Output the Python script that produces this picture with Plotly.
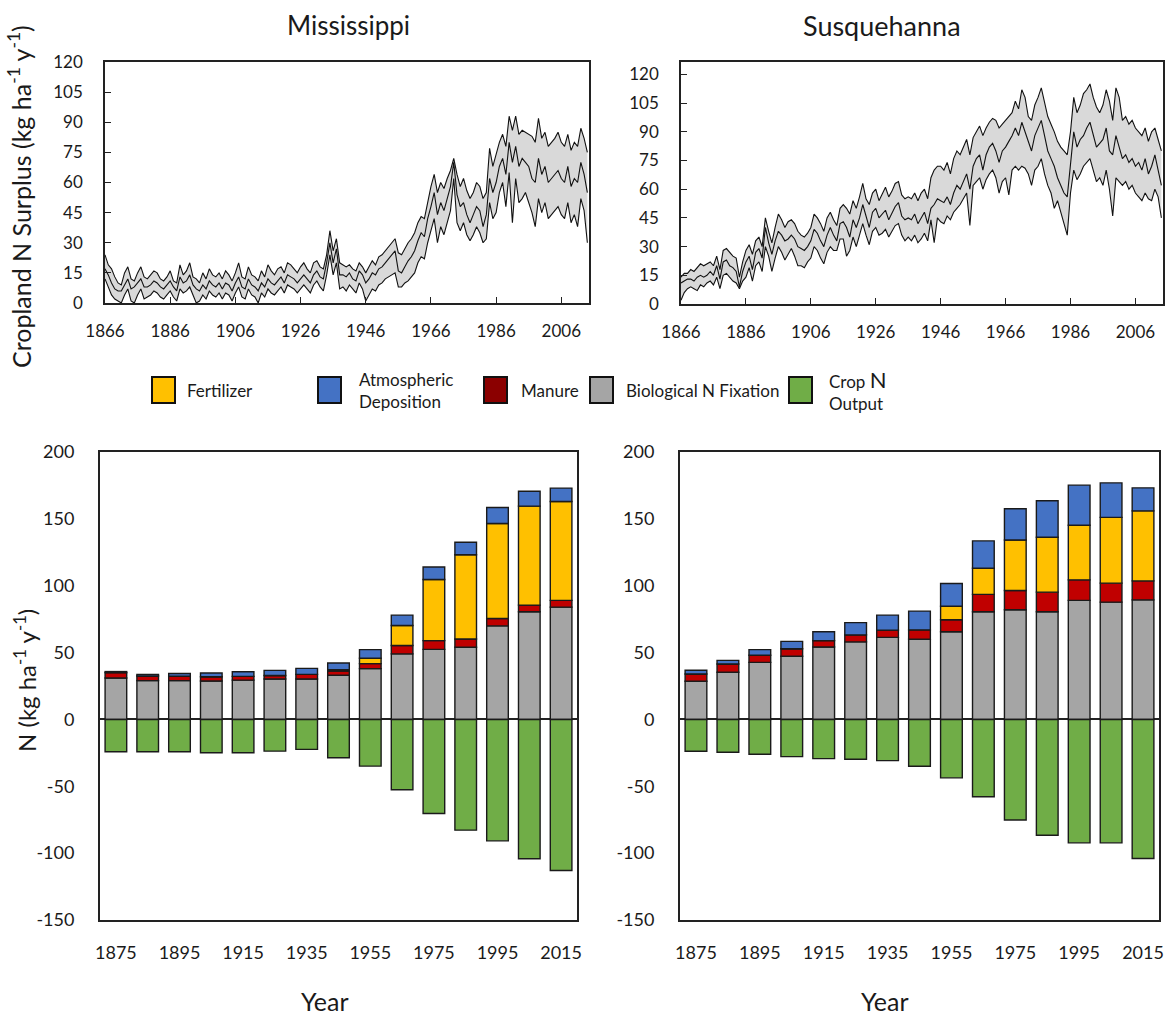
import plotly.graph_objects as go

# ---------------- DATA ----------------
ts_years = list(range(1866, 2015))

miss_upper = [24, 19, 17, 13, 10, 9, 15, 18, 12, 11,
              15, 18, 13, 12, 14, 16, 15, 12, 11, 13,
              16, 11, 10, 19, 14, 16, 20, 13, 12, 10,
              15, 12, 17, 14, 13, 15, 12, 16, 14, 11,
              15, 20, 13, 12, 18, 14, 13, 11, 16, 13,
              19, 16, 14, 17, 18, 15, 20, 19, 17, 15,
              18, 20, 17, 15, 20, 21, 18, 17, 24, 36,
              26, 32, 20, 19, 18, 19, 17, 16, 20, 18,
              15, 18, 21, 19, 23, 24, 26, 28, 30, 32,
              25, 24, 27, 30, 32, 35, 40, 43, 42, 50,
              58, 64, 55, 60, 57, 62, 66, 72, 64, 58,
              62, 56, 52, 55, 60, 58, 52, 55, 77, 68,
              74, 80, 84, 78, 93, 86, 93, 84, 86, 85,
              84, 83, 80, 92, 82, 85, 78, 80, 82, 85,
              80, 78, 84, 76, 80, 78, 87, 82, 75]
miss_mid = [17, 14, 10, 7, 6, 6, 9, 12, 7, 8,
            10, 12, 8, 8, 9, 11, 10, 8, 7, 9,
            11, 8, 6, 13, 10, 11, 14, 9, 7, 6,
            9, 7, 11, 9, 8, 10, 7, 10, 9, 6,
            10, 13, 8, 7, 12, 9, 8, 6, 10, 8,
            12, 10, 9, 11, 13, 10, 14, 13, 12, 10,
            12, 14, 12, 10, 14, 16, 13, 12, 20, 30,
            20, 27, 14, 14, 13, 15, 12, 11, 16, 14,
            10, 12, 15, 14, 17, 18, 20, 22, 24, 26,
            16, 15, 18, 21, 23, 26, 31, 35, 33, 42,
            48, 55, 44, 50, 46, 52, 58, 70, 54, 48,
            50, 44, 40, 44, 48, 46, 38, 44, 62, 55,
            60, 68, 72, 64, 80, 70, 78, 68, 72, 70,
            68, 62, 60, 72, 64, 68, 60, 62, 64, 66,
            62, 60, 68, 58, 62, 60, 70, 64, 55]
miss_lower = [12, 8, 4, 2, 1, 0, 4, 7, 1, 0,
              4, 7, 2, 3, 4, 6, 5, 3, 2, 4,
              6, 3, 1, 7, 5, 6, 8, 4, 0, 1,
              4, 2, 6, 4, 3, 5, 2, 5, 4, 1,
              5, 8, 3, 2, 7, 4, 3, 0, 5, 3,
              7, 5, 4, 6, 8, 5, 9, 8, 7, 5,
              7, 9, 7, 5, 9, 11, 8, 6, 14, 24,
              14, 20, 7, 8, 6, 9, 7, 5, 10, 7,
              1, 4, 7, 6, 9, 10, 12, 13, 14, 15,
              8, 8, 10, 11, 13, 15, 20, 23, 22, 30,
              36, 42, 30, 38, 34, 40, 46, 62, 40, 36,
              40, 34, 31, 34, 38, 35, 30, 32, 50, 42,
              45, 55, 60, 48, 65, 40, 62, 50, 52, 55,
              50, 45, 38, 52, 45, 50, 42, 44, 46, 48,
              44, 42, 50, 40, 44, 38, 52, 46, 30]

susq_upper = [14, 16, 16, 18, 17, 19, 21, 20, 21, 22,
              20, 25, 18, 28, 29, 27, 25, 24, 14, 22,
              28, 31, 26, 33, 35, 30, 45, 38, 32, 40,
              47, 44, 40, 43, 44, 42, 38, 36, 35, 37,
              40, 47, 45, 42, 38, 45, 48, 44, 41, 50,
              52, 50, 47, 54, 50, 56, 63, 55, 52, 58,
              60, 54, 58, 61, 56, 59, 63, 64, 57, 55,
              56, 55, 58, 54, 58, 60, 55, 66, 70, 72,
              72, 70, 74, 68, 76, 80, 78, 82, 86, 78,
              87, 90, 93, 88, 92, 95, 97, 96, 92, 94,
              96, 98, 100, 106, 102, 112, 108, 98, 96, 104,
              108, 113, 105, 98, 94, 90, 85, 82, 80, 78,
              90, 108, 100, 104, 110, 112, 115, 108, 103, 100,
              104, 112, 106, 96, 113, 108, 96, 98, 94, 96,
              92, 90, 88, 92, 85, 90, 92, 86, 80]
susq_mid = [11, 12, 13, 13, 12, 14, 15, 14, 15, 17,
            15, 20, 13, 22, 23, 20, 19, 17, 9, 17,
            22, 25, 18, 27, 29, 24, 40, 32, 26, 33,
            38, 36, 33, 34, 36, 34, 30, 29, 28, 30,
            33, 39, 37, 33, 30, 36, 40, 36, 33, 42,
            43, 40, 35, 44, 40, 45, 52, 46, 40, 48,
            50, 45, 47, 49, 44, 48, 51, 53, 46, 44,
            45, 44, 47, 42, 45, 48, 42, 50, 52, 55,
            54, 53, 56, 52, 58, 62, 60, 64, 68, 60,
            72, 76, 78, 70, 78, 82, 84, 80, 74, 80,
            82, 85, 88, 92, 88, 95, 90, 84, 80, 88,
            92, 96, 88, 80, 76, 72, 66, 62, 58, 56,
            75, 90, 82, 86, 88, 92, 95, 88, 82, 84,
            86, 92, 80, 78, 88, 82, 76, 78, 74, 76,
            72, 74, 70, 76, 68, 72, 78, 70, 62]
susq_lower = [2, 6, 8, 9, 8, 7, 10, 9, 11, 12,
              10, 14, 8, 15, 16, 14, 12, 11, 8, 12,
              14, 19, 12, 20, 22, 17, 30, 25, 17, 24,
              30, 27, 23, 26, 29, 25, 20, 20, 19, 22,
              24, 30, 28, 24, 21, 27, 30, 28, 28, 34,
              34, 25, 28, 35, 30, 36, 42, 36, 31, 38,
              40, 36, 37, 39, 35, 38, 41, 42, 36, 33,
              35, 33, 36, 32, 34, 37, 33, 44, 32, 45,
              43, 42, 46, 44, 48, 50, 52, 55, 58, 41,
              62, 64, 66, 60, 65, 68, 70, 66, 58, 64,
              66, 57, 70, 72, 70, 72, 71, 68, 62, 70,
              72, 76, 68, 62, 58, 50, 54, 48, 42, 36,
              58, 70, 65, 68, 72, 74, 76, 70, 64, 66,
              62, 70, 60, 46, 66, 64, 62, 64, 60, 62,
              58, 56, 54, 58, 55, 54, 60, 56, 45]

bar_years = [1875, 1885, 1895, 1905, 1915, 1925, 1935, 1945,
             1955, 1965, 1975, 1985, 1995, 2005, 2015]

miss_bnf = [31, 29, 29, 28.7, 29.4, 30.2, 30.2, 33, 38, 49, 52.4, 54, 70, 80.5, 84]
miss_manure = [4, 3.5, 3.3, 3.2, 2.8, 2.7, 3.5, 3.2, 3.7, 6.3, 6.5, 6.2, 5.5, 5, 5]
miss_fert = [0, 0, 0, 0, 0, 0, 0, 1, 4, 15, 45.8, 63, 71, 74, 74]
miss_atm = [0.8, 1.2, 2, 2.8, 3.5, 3.8, 4.5, 5, 6.5, 7.7, 9.3, 9.3, 12, 11.2, 10]
miss_crop = [-24.2, -24.2, -24.2, -24.9, -24.9, -23.7, -22.4, -28.7, -34.9,
             -52.6, -70.3, -82.8, -90.8, -104.2, -113]

susq_bnf = [28.6, 35.3, 42.7, 47.2, 54.2, 58, 61.4, 60, 65.6, 80.5, 82, 80.5, 89, 87.7, 89.4]
susq_manure = [5.4, 6.2, 5.3, 5.7, 4.7, 5.2, 5.4, 7, 9, 13, 14.4, 14.7, 15.4, 14.2, 14.2]
susq_fert = [0, 0, 0, 0, 0, 0, 0, 0, 10, 19.6, 37.8, 41, 40.8, 49.2, 52.4]
susq_atm = [2.8, 2.7, 4.2, 5.5, 6.7, 9.2, 11.2, 14, 17, 20.4, 23.4, 27.3, 30, 25.8, 17.2]
susq_crop = [-23.8, -24.6, -26, -27.8, -29.3, -29.8, -30.8, -35, -43.7,
             -57.8, -75.2, -86.6, -92.3, -92.3, -104]

top_xticks = [1866, 1886, 1906, 1926, 1946, 1966, 1986, 2006]
top_yticks = [0, 15, 30, 45, 60, 75, 90, 105, 120]
bot_xticks = [1875, 1895, 1915, 1935, 1955, 1975, 1995, 2015]
bot_yticks = [-150, -100, -50, 0, 50, 100, 150, 200]
bot_yticktext = ["-150", "-100", "-50", "0", "50", "100", "150", "200"]

legend_labels = ["Fertilizer", "Atmospheric<br>Deposition", "Manure",
                 "Biological N Fixation", "Crop <span style='font-size:22px'>N</span><br>Output"]

# ---------------- STYLE ----------------
W, H = 1175, 1018
FONT = "Lato"
C_FERT = "#FFC000"
C_ATM = "#4472C4"
C_MAN = "#C00000"
C_BNF = "#A5A5A5"
C_CROP = "#70AD47"
legend_colors = [C_FERT, C_ATM, "#8B0000", C_BNF, C_CROP]


def px(x):
    return x / W


def py(y):
    return 1 - y / H


fig = go.Figure()

# ---- top panels: band + lines ----
for (lo, mi, up, xa, ya) in [(miss_lower, miss_mid, miss_upper, "x", "y"),
                             (susq_lower, susq_mid, susq_upper, "x2", "y2")]:
    fig.add_trace(go.Scatter(x=ts_years, y=lo, mode="lines", xaxis=xa, yaxis=ya,
                             line=dict(color="#111111", width=1.1), showlegend=False))
    fig.add_trace(go.Scatter(x=ts_years, y=up, mode="lines", xaxis=xa, yaxis=ya,
                             fill="tonexty", fillcolor="#D9D9D9",
                             line=dict(color="#111111", width=1.1), showlegend=False))
    fig.add_trace(go.Scatter(x=ts_years, y=mi, mode="lines", xaxis=xa, yaxis=ya,
                             line=dict(color="#111111", width=1.1), showlegend=False))

# ---- bottom panels: stacked bars ----
for (bnf, man, fert, atm, crop, xa, ya) in [
        (miss_bnf, miss_manure, miss_fert, miss_atm, miss_crop, "x3", "y3"),
        (susq_bnf, susq_manure, susq_fert, susq_atm, susq_crop, "x4", "y4")]:
    for vals, col in [(bnf, C_BNF), (man, C_MAN), (fert, C_FERT), (atm, C_ATM), (crop, C_CROP)]:
        fig.add_trace(go.Bar(x=bar_years, y=vals, xaxis=xa, yaxis=ya,
                             marker=dict(color=col, line=dict(color="#1a1a1a", width=1.4)),
                             showlegend=False))

top_font = dict(family=FONT, size=17, color="#1a1a1a")
bot_font = dict(family=FONT, size=18, color="#1a1a1a")
axis_common = dict(showline=True, mirror=True, linecolor="#222222", showgrid=False,
                   zeroline=False, automargin=False)

layout = dict(
    width=W, height=H, margin=dict(l=0, r=0, t=0, b=0, autoexpand=False),
    paper_bgcolor="white", plot_bgcolor="white",
    barmode="relative", bargap=0.32,
    font=dict(family=FONT, color="#1a1a1a"),
    showlegend=False,
    xaxis=dict(domain=[px(105), px(589)], anchor="y", range=[1866, 2014.5],
               tickvals=top_xticks, ticks="inside", ticklen=6, tickcolor="#222222",
               linewidth=1.5, ticklabelstandoff=12, tickfont=top_font, **axis_common),
    yaxis=dict(domain=[py(303), py(62)], anchor="x", range=[0, 120],
               tickvals=top_yticks, ticks="inside", ticklen=6, tickcolor="#222222",
               linewidth=1.5, ticklabelstandoff=17, tickfont=top_font, **axis_common),
    xaxis2=dict(domain=[px(681), px(1163)], anchor="y2", range=[1866, 2014.5],
                tickvals=top_xticks, ticks="inside", ticklen=6, tickcolor="#222222",
                linewidth=1.5, ticklabelstandoff=12, tickfont=top_font, **axis_common),
    yaxis2=dict(domain=[py(304), py(62)], anchor="x2", range=[0, 126.5],
                tickvals=top_yticks, ticks="inside", ticklen=6, tickcolor="#222222",
                linewidth=1.5, ticklabelstandoff=17, tickfont=top_font, **axis_common),
    xaxis3=dict(domain=[px(100), px(577)], anchor="y3", range=[1870, 2020],
                tickvals=bot_xticks, ticks="", linewidth=2, ticklabelstandoff=15,
                tickfont=bot_font, **axis_common),
    yaxis3=dict(domain=[py(920), py(452)], anchor="x3", range=[-150, 200],
                tickvals=bot_yticks, ticktext=bot_yticktext, ticks="", linewidth=2,
                ticklabelstandoff=20, tickfont=bot_font,
                **{**axis_common, "zeroline": True, "zerolinecolor": "#222222", "zerolinewidth": 1.5}),
    xaxis4=dict(domain=[px(680), px(1159)], anchor="y4", range=[1870, 2020],
                tickvals=bot_xticks, ticks="", linewidth=2, ticklabelstandoff=15,
                tickfont=bot_font, **axis_common),
    yaxis4=dict(domain=[py(920), py(452)], anchor="x4", range=[-150, 200],
                tickvals=bot_yticks, ticktext=bot_yticktext, ticks="", linewidth=2,
                ticklabelstandoff=20, tickfont=bot_font,
                **{**axis_common, "zeroline": True, "zerolinecolor": "#222222", "zerolinewidth": 1.5}),
)
fig.update_layout(**layout)

ann = []
def add_text(x, y, text, size, angle=0, xanchor="center", align="center"):
    ann.append(dict(x=px(x), y=py(y), xref="paper", yref="paper", text=text,
                    showarrow=False, textangle=angle, xanchor=xanchor, yanchor="middle",
                    align=align, font=dict(family=FONT, size=size, color="#1a1a1a")))

add_text(348, 25, "Mississippi", 26)
add_text(882, 25, "Susquehanna", 27)
add_text(20, 197, "Cropland N Surplus (kg ha<sup>-1</sup> y<sup>-1</sup>)", 25, angle=-90)
add_text(25, 681, "N (kg ha<sup>-1</sup> y<sup>-1</sup>)", 24, angle=-90)
add_text(325, 1001, "Year", 25)
add_text(885, 1001, "Year", 25)

# legend: boxes + labels
box_x = [152, 318, 484, 590, 789]
text_x = [185, 357, 519, 624, 827]
shapes = []
for bx, tx, lab, col in zip(box_x, text_x, legend_labels, legend_colors):
    shapes.append(dict(type="rect", xref="paper", yref="paper",
                       x0=px(bx), x1=px(bx + 23), y0=py(403), y1=py(377),
                       fillcolor=col, line=dict(color="#111111", width=2)))
    add_text(tx, 390, lab, 17, xanchor="left", align="left")

fig.update_layout(annotations=ann, shapes=shapes)
fig.write_html("out.html")
